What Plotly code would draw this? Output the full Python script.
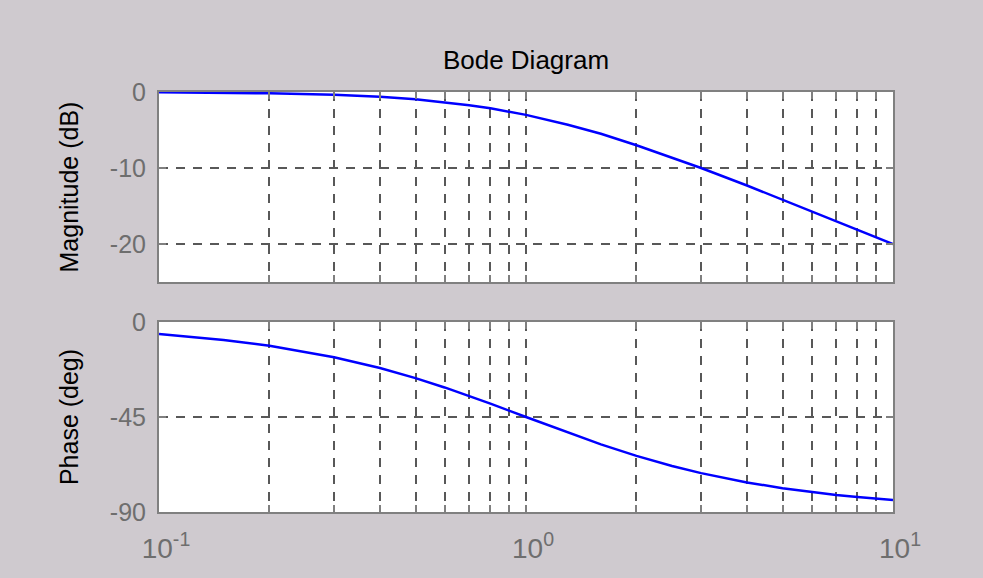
import plotly.graph_objects as go
from plotly.subplots import make_subplots

# Frequencies (rad/s) and values
freq = [0.1, 0.15, 0.2, 0.3, 0.4, 0.5, 0.6, 0.7, 0.8, 1.0, 1.3, 1.6, 2.0, 2.5, 3.0, 4.0, 5.0, 6.0, 7.0, 8.0, 10.0]
magnitude_db = [-0.04, -0.1, -0.17, -0.37, -0.64, -0.97, -1.34, -1.73, -2.15, -3.01, -4.3, -5.5,
                -7.0, -8.6, -10.0, -12.3, -14.2, -15.7, -17.0, -18.1, -20.0]
phase_deg = [-5.7, -8.5, -11.3, -16.7, -21.8, -26.6, -31.0, -35.0, -38.7, -45.0, -52.4, -58.0,
             -63.4, -68.2, -71.6, -76.0, -78.7, -80.5, -81.9, -82.9, -84.3]

x_major_vals = [0.1, 1, 10]
x_major_text = ["10<sup>-1</sup>", "10<sup>0</sup>", "10<sup>1</sup>"]
x_minor_vals = [0.2, 0.3, 0.4, 0.5, 0.6, 0.7, 0.8, 0.9, 2, 3, 4, 5, 6, 7, 8, 9]
mag_ticks = [0, -10, -20]
mag_text = ["0", "-10", "-20"]
phase_ticks = [0, -45, -90]
phase_text = ["0", "-45", "-90"]

BG = "#cfcacf"
FONT = "Liberation Sans, Arial, sans-serif"
GRID = "#585858"
FRAME = "#808080"
TICKFONT = dict(family=FONT, size=25, color="#6e6e6e")

fig = make_subplots(rows=2, cols=1, shared_xaxes=False, vertical_spacing=0.0952)

fig.add_trace(go.Scatter(x=freq, y=magnitude_db, mode="lines",
                         line=dict(color="#0000ff", width=2.5), showlegend=False), row=1, col=1)
fig.add_trace(go.Scatter(x=freq, y=phase_deg, mode="lines",
                         line=dict(color="#0000ff", width=2.5), showlegend=False), row=2, col=1)

common_x = dict(type="log", range=[-1, 1], tickmode="array", tickvals=x_major_vals,
                ticktext=x_major_text,
                showgrid=True, gridcolor=GRID, griddash="9px,8px", gridwidth=2,
                minor=dict(tickmode="array", tickvals=x_minor_vals, showgrid=True,
                           gridcolor=GRID, griddash="9px,8px", gridwidth=2,
                           ticks="inside", ticklen=7, tickcolor=FRAME, tickwidth=2),
                showline=True, linecolor=FRAME, linewidth=2, mirror="ticks",
                ticks="inside", ticklen=7, tickcolor=FRAME, tickwidth=2,
                zeroline=False, tickfont=dict(family=FONT, size=28, color="#6e6e6e"))
fig.update_xaxes(**common_x, showticklabels=False, row=1, col=1)
fig.update_xaxes(**common_x, ticklabelshift=7, ticklabelstandoff=10, row=2, col=1)

common_y = dict(showgrid=True, gridcolor=GRID, griddash="9px,8px", gridwidth=2,
                showline=True, linecolor=FRAME, linewidth=2, mirror="ticks",
                ticks="inside", ticklen=7, tickcolor=FRAME, tickwidth=2,
                zeroline=False, tickfont=TICKFONT, ticklabelstandoff=6,
                title_font=dict(family=FONT, size=25, color="#000000"), title_standoff=24)
fig.update_yaxes(**common_y, range=[-25, 0], tickmode="array", tickvals=mag_ticks,
                 ticktext=mag_text, title_text="Magnitude (dB)", row=1, col=1)
fig.update_yaxes(**common_y, range=[-90, 0], tickmode="array", tickvals=phase_ticks,
                 ticktext=phase_text, title_text="Phase (deg)", row=2, col=1)

fig.update_layout(
    width=983, height=578,
    margin=dict(l=159, r=90, t=92, b=66, autoexpand=False),
    paper_bgcolor=BG, plot_bgcolor="#ffffff",
    title=dict(text="Bode Diagram", x=0.5, xref="paper", y=1 - 60 / 578, yref="container",
               xanchor="center", yanchor="middle",
               font=dict(family=FONT, size=26, color="#000000")),
    showlegend=False,
)

fig.write_html("out.html")
